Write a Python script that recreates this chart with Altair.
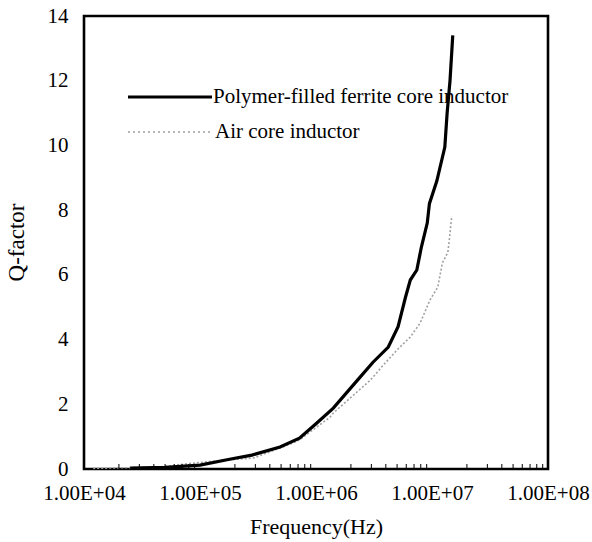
import altair as alt
import pandas as pd

# ---- data ----
ferrite_freq = [2.5e4, 5.0e4, 1.0e5, 1.8e5, 2.8e5, 4.9e5, 7.2e5, 1.0e6, 1.41e6, 2.4e6,
                3.1e6, 4.2e6, 5.1e6, 5.9e6, 6.5e6, 7.4e6, 8.1e6, 9.1e6, 9.5e6, 1.1e7,
                1.29e7, 1.35e7, 1.43e7, 1.51e7]
ferrite_q = [0.03, 0.05, 0.12, 0.30, 0.43, 0.68, 0.95, 1.40, 1.88, 2.84,
             3.30, 3.77, 4.40, 5.30, 5.84, 6.15, 6.86, 7.60, 8.20, 8.90,
             9.95, 11.0, 12.0, 13.4]

air_freq = [1.2e4, 4.5e4, 8.7e4, 1.7e5, 2.9e5, 6.3e5, 7.2e5, 1.32e6, 1.41e6, 2.95e6,
            3.8e6, 5.0e6, 6.5e6, 7.9e6, 9.6e6, 1.12e7, 1.23e7, 1.37e7, 1.41e7, 1.48e7]
air_q = [0.02, 0.06, 0.18, 0.28, 0.34, 0.80, 0.90, 1.60, 1.73, 2.75,
         3.21, 3.68, 4.08, 4.51, 5.22, 5.62, 6.37, 6.70, 7.08, 7.82]

x_ticks = [1e4, 1e5, 1e6, 1e7, 1e8]
y_ticks = [0, 2, 4, 6, 8, 10, 12, 14]
minor_ticks = [m * 10 ** k for k in range(4, 8) for m in range(2, 10)]
legend_labels = ["Polymer-filled ferrite core inductor", "Air core inductor"]

W, H = 464, 453
FONT = "Liberation Serif"

xscale = alt.Scale(type="log", domain=[1e4, 1e8])
yscale = alt.Scale(domain=[0, 14])

xaxis = alt.Axis(values=x_ticks,
                 labelExpr="'1.00E+0' + format(round(log(datum.value)/LN10), 'd')",
                 labelPadding=30, labelBaseline="alphabetic", labelFlush=False,
                 labelOverlap=False, titleY=64, titleBaseline="alphabetic")
yaxis = alt.Axis(values=y_ticks, labelPadding=16, labelFlush=False, labelOverlap=False,
                 titleX=-61, titleY=226, titleAngle=270, titleBaseline="alphabetic",
                 titleAlign="center", titleFontSize=23)

x_enc = alt.X("f:Q", scale=xscale, axis=xaxis, title="Frequency(Hz)")
y_enc = alt.Y("q:Q", scale=yscale, axis=yaxis, title="Q-factor")

ferrite_df = pd.DataFrame({"f": ferrite_freq, "q": ferrite_q})
air_df = pd.DataFrame({"f": air_freq, "q": air_q})
minor_df = pd.DataFrame({"f": minor_ticks})
one = pd.DataFrame({"k": [0]})

air_line = alt.Chart(air_df).mark_line(color="#a0a0a0", strokeWidth=1.6,
                                       strokeDash=[2, 2]).encode(x=x_enc, y=y_enc)
ferrite_line = alt.Chart(ferrite_df).mark_line(color="black", strokeWidth=3.2).encode(x=x_enc, y=y_enc)
minor = alt.Chart(minor_df).mark_rule(color="black", strokeWidth=1).encode(
    x=x_enc, y=alt.value(H), y2=alt.value(H - 5))

leg1_line = alt.Chart(one).mark_rule(color="black", strokeWidth=3.2).encode(
    x=alt.value(44), x2=alt.value(128), y=alt.value(81))
leg2_line = alt.Chart(one).mark_rule(color="#a0a0a0", strokeWidth=1.6, strokeDash=[2, 3]).encode(
    x=alt.value(44), x2=alt.value(128), y=alt.value(116))
leg1_text = alt.Chart(one).mark_text(align="left", baseline="middle", font=FONT,
                                     fontSize=21, color="black").encode(
    x=alt.value(129), y=alt.value(81), text=alt.value(legend_labels[0]))
leg2_text = alt.Chart(one).mark_text(align="left", baseline="middle", font=FONT,
                                     fontSize=21, color="black").encode(
    x=alt.value(131), y=alt.value(116), text=alt.value(legend_labels[1]))

chart = alt.layer(air_line, ferrite_line, minor, leg1_line, leg2_line, leg1_text, leg2_text).properties(
    width=W, height=H,
    padding={"left": 84, "top": 16, "right": 44, "bottom": 73},
    autosize=alt.AutoSizeParams(type="none"),
    background="white",
).configure_view(stroke="black", strokeWidth=2.6).configure_axis(
    labelFont=FONT, labelFontSize=21, labelColor="black",
    titleFont=FONT, titleFontSize=22, titleFontWeight="normal", titleColor="black",
    grid=False, domain=False, ticks=False, tickSize=0,
)

chart.save("out.html", embed_options={"renderer": "svg", "actions": False})
